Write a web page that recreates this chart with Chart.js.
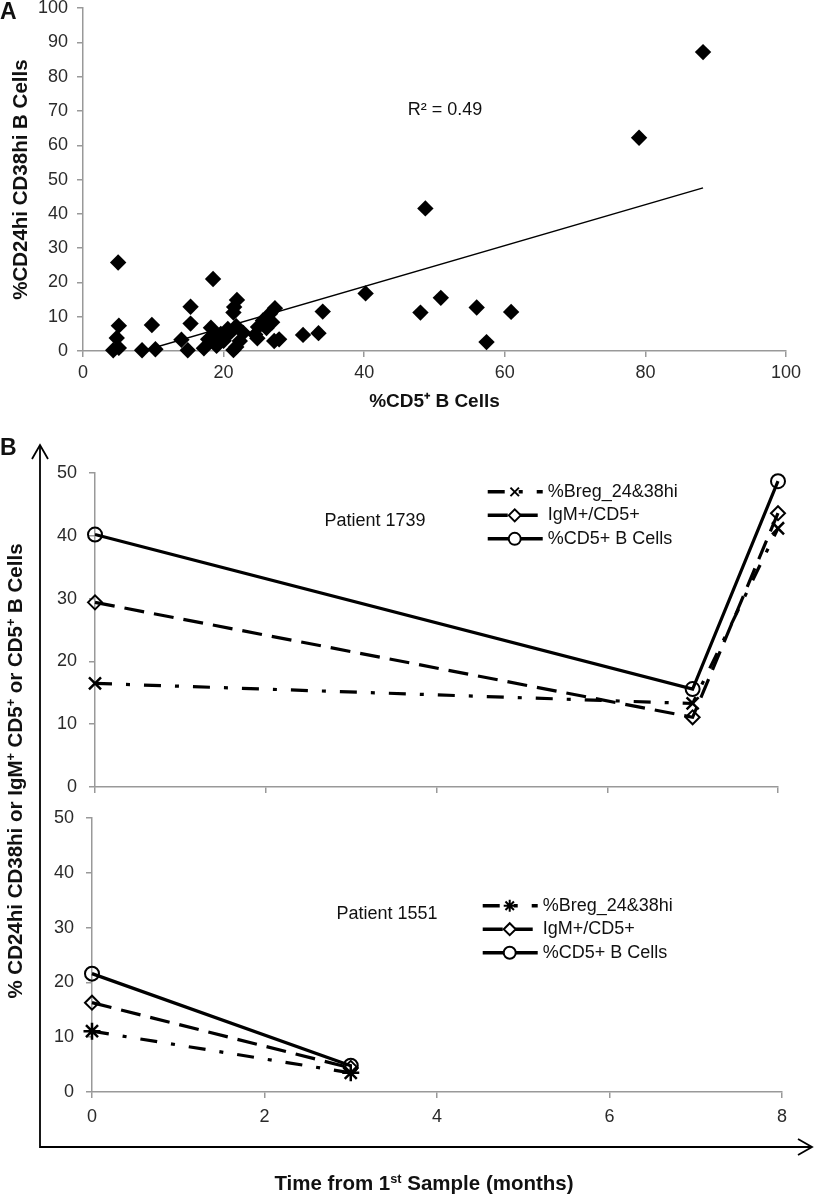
<!DOCTYPE html>
<html>
<head>
<meta charset="utf-8">
<script src="https://cdn.jsdelivr.net/npm/chart.js@4.4.1/dist/chart.umd.min.js"></script>
<style>
  body { margin: 0; background: #fff; }
  #wrap { position: relative; width: 815px; height: 1195px; background: #fff; }
  canvas { position: absolute; left: 0; }
</style>
</head>
<body>
<div id="wrap">
  <canvas id="chartA" width="815" height="430" style="top:0"></canvas>
  <canvas id="chartB2" width="815" height="765" style="top:430px"></canvas>
  <canvas id="chartB1" width="815" height="370" style="top:430px"></canvas>
</div>
<script>
const FONT = "'Liberation Sans', Arial, sans-serif";
Chart.defaults.font.family = FONT;
Chart.defaults.color = '#222';
Chart.defaults.animation = false;
Chart.defaults.events = [];

// ---- panel A data: %CD5+ B cells vs %CD24hi CD38hi B cells
const cd5Pct = [4.3, 4.8, 5.1, 5.1, 5.0, 8.4, 9.8, 10.3, 14.0, 14.9,
  15.3, 15.3, 17.2, 17.8, 18.2, 18.5, 18.8, 19.2, 19.6, 20.2,
  20.6, 21.0, 21.4, 21.4, 21.5, 21.9, 21.8, 22.3, 22.8, 21.8,
  24.5, 24.8, 24.9, 25.6, 26.1, 26.6, 27.3, 26.9, 27.2, 27.9,
  31.3, 33.5, 34.1, 40.2, 48.0, 48.7, 50.9, 56.0, 57.4, 60.9,
  79.1, 88.2, 19.0, 20.0];
const bregPct = [0.2, 3.8, 0.9, 7.4, 25.8, 0.2, 7.6, 0.5, 3.3, 0.2,
  12.9, 8.0, 0.8, 3.4, 6.8, 21.0, 4.3, 2.5, 5.0, 4.5,
  6.4, 5.5, 0.3, 11.2, 12.8, 14.9, 7.2, 2.9, 5.3, 1.2,
  4.8, 3.7, 7.0, 8.9, 6.7, 10.9, 12.5, 8.4, 2.9, 3.4,
  4.7, 5.2, 11.5, 16.8, 11.2, 41.6, 15.5, 12.7, 2.6, 11.4,
  62.2, 87.2, 1.5, 3.0];
const trendSlope = 0.597;
const trendIntercept = -5.07;
const r2Text = 'R² = 0.49';
const r2At = [51.5, 70.3];

// ---- panel B data: time course per patient
const seriesNames = ['%Breg_24&38hi', 'IgM+/CD5+', '%CD5+ B Cells'];
const months1739 = [0, 7, 8];
const breg1739 = [16.5, 13.3, 41.2];
const igm1739 = [29.4, 11.1, 43.6];
const cd5_1739 = [40.2, 15.6, 48.7];
const months1551 = [0, 3];
const breg1551 = [11.1, 3.5];
const igm1551 = [16.3, 4.4];
const cd5_1551 = [21.6, 4.8];

function xy(xs, ys) {
  return xs.map((v, i) => ({ x: v, y: ys[i] }));
}

function makeScale(min, max, step, size, tickPad, showLabels) {
  return {
    type: 'linear',
    min: min,
    max: max,
    ticks: { stepSize: step, padding: tickPad, display: showLabels, font: { size: 18 }, color: '#2a2a2a' },
    grid: { drawOnChartArea: false, drawTicks: true, tickLength: 6, color: '#999', lineWidth: 1.5 },
    border: { color: '#999', width: 1.5 },
    afterFit: s => {
      if (s.isHorizontal()) s.height = size; else s.width = size;
      s.paddingTop = 0; s.paddingBottom = 0; s.paddingLeft = 0; s.paddingRight = 0;
    }
  };
}

// text with superscript runs, optionally rotated
function drawRuns(ctx, runs, cx, cy, size, rotate) {
  ctx.save();
  ctx.translate(cx, cy);
  if (rotate) ctx.rotate(-Math.PI / 2);
  ctx.textBaseline = 'alphabetic';
  ctx.textAlign = 'left';
  let total = 0;
  runs.forEach(r => {
    ctx.font = 'bold ' + (r.sup ? size * 0.62 : size) + 'px ' + FONT;
    r.w = ctx.measureText(r.t).width;
    total += r.w;
  });
  let x = -total / 2;
  const base = size * 0.36;
  runs.forEach(r => {
    ctx.font = 'bold ' + (r.sup ? size * 0.62 : size) + 'px ' + FONT;
    ctx.fillText(r.t, x, r.sup ? base - size * 0.38 : base);
    x += r.w;
  });
  ctx.restore();
}

function seriesSet(xs, breg, igm, cd5, bregStyle) {
  return [
    { label: seriesNames[0], data: xy(xs, breg), borderColor: '#000', borderWidth: 3.2,
      borderDash: [17, 14, 4, 14], pointStyle: bregStyle, pointRadius: 8.5, pointBorderWidth: 2.5,
      pointBorderColor: '#000', pointBackgroundColor: 'rgba(0,0,0,0)' },
    { label: seriesNames[1], data: xy(xs, igm), borderColor: '#000', borderWidth: 3.2,
      borderDash: [20, 10], pointStyle: 'rectRot', pointRadius: 7, pointBorderWidth: 2,
      pointBorderColor: '#000', pointBackgroundColor: 'rgba(0,0,0,0)' },
    { label: seriesNames[2], data: xy(xs, cd5), borderColor: '#000', borderWidth: 3.2,
      pointStyle: 'circle', pointRadius: 7, pointBorderWidth: 2,
      pointBorderColor: '#000', pointBackgroundColor: 'rgba(0,0,0,0)' }
  ].map(d => Object.assign(d, { showLine: true, tension: 0, clip: false, borderCapStyle: 'butt' }));
}

// legend with line sample + marker, and patient caption
const keyPlugin = {
  id: 'lineKey',
  afterDraw(chart, args, opts) {
    const { ctx, scales: { x, y } } = chart;
    const x0 = x.getPixelForValue(opts.at[0]);
    let yy = y.getPixelForValue(opts.at[1]);
    ctx.save();
    chart.data.datasets.forEach(ds => {
      ctx.strokeStyle = '#000';
      ctx.lineWidth = 3.5;
      ctx.setLineDash(ds.borderDash || []);
      ctx.beginPath();
      ctx.moveTo(x0, yy);
      ctx.lineTo(x0 + 55, yy);
      ctx.stroke();
      ctx.setLineDash([]);
      ctx.lineWidth = 2;
      ctx.fillStyle = '#fff';
      Chart.helpers.drawPoint(ctx, { pointStyle: ds.pointStyle, radius: 6, borderWidth: 2, rotation: 0 }, x0 + 27, yy);
      ctx.fillStyle = '#111';
      ctx.font = '18px ' + FONT;
      ctx.textAlign = 'left';
      ctx.textBaseline = 'middle';
      ctx.fillText(ds.label, x0 + 60, yy);
      yy += opts.rowGap;
    });
    ctx.font = '18px ' + FONT;
    ctx.textAlign = 'center';
    ctx.fillText(opts.caption, x.getPixelForValue(opts.captionAt[0]), y.getPixelForValue(opts.captionAt[1]));
    ctx.restore();
  }
};

// ---------- Panel A
const annotateA = {
  id: 'annotateA',
  afterDraw(chart) {
    const { ctx, scales: { x, y } } = chart;
    ctx.save();
    ctx.fillStyle = '#111';
    ctx.textBaseline = 'middle';
    ctx.font = 'bold 23px ' + FONT;
    ctx.textAlign = 'left';
    ctx.fillText('A', 0, 13);
    ctx.font = '18px ' + FONT;
    ctx.textAlign = 'center';
    ctx.fillText(r2Text, x.getPixelForValue(r2At[0]), y.getPixelForValue(r2At[1]));
    ctx.restore();
  }
};

const xMin = Math.min(...cd5Pct), xMax = Math.max(...cd5Pct);
const trendXs = [xMin, xMax];
const trendYs = trendXs.map(v => trendSlope * v + trendIntercept);

const scaleAx = makeScale(0, 100, 20, 79, 5, true);
scaleAx.title = { display: true, text: '%CD5⁺ B Cells', color: '#111',
  font: { size: 19, weight: 'bold' }, padding: { top: 0, bottom: 17 } };
const scaleAy = makeScale(0, 100, 10, 83, 9, true);
scaleAy.title = { display: true, text: '%CD24hi CD38hi B Cells', color: '#111',
  font: { size: 20.5, weight: 'bold' }, padding: { top: 9, bottom: 0 } };

new Chart(document.getElementById('chartA'), {
  type: 'scatter',
  data: {
    datasets: [
      { data: xy(cd5Pct, bregPct), pointStyle: 'rectRot', pointRadius: 8.2,
        backgroundColor: '#000', borderWidth: 0, clip: false },
      { data: xy(trendXs, trendYs), showLine: true, borderColor: '#000',
        borderWidth: 1.5, pointRadius: 0 }
    ]
  },
  options: {
    responsive: false,
    layout: { padding: { top: 8, right: 29, left: 0, bottom: 0 } },
    plugins: { legend: { display: false }, tooltip: { enabled: false } },
    scales: { x: scaleAx, y: scaleAy }
  },
  plugins: [annotateA]
});

// ---------- Panel B, patient 1739 (upper)
new Chart(document.getElementById('chartB1'), {
  type: 'scatter',
  data: { datasets: seriesSet(months1739, breg1739, igm1739, cd5_1739, 'crossRot') },
  options: {
    responsive: false,
    layout: { padding: { top: 43, right: 37, left: 0, bottom: 0 } },
    plugins: {
      legend: { display: false }, tooltip: { enabled: false },
      lineKey: { at: [4.6, 47.0], rowGap: 23.5, caption: 'Patient 1739', captionAt: [3.28, 42.4] }
    },
    scales: { x: makeScale(0, 8, 2, 13, 5, false), y: makeScale(0, 50, 10, 95, 12, true) }
  },
  plugins: [keyPlugin]
});

// ---------- Panel B, patient 1551 (lower) + shared frame
const frameB = {
  id: 'frameB',
  afterDraw(chart) {
    const ctx = chart.ctx;
    ctx.save();
    ctx.strokeStyle = '#000';
    ctx.lineWidth = 1.8;
    ctx.beginPath();
    ctx.moveTo(40, 15);
    ctx.lineTo(40, 717);
    ctx.lineTo(812, 717);
    ctx.stroke();
    ctx.beginPath();
    ctx.moveTo(32, 29); ctx.lineTo(40, 15); ctx.lineTo(48, 29);
    ctx.moveTo(798, 709); ctx.lineTo(812, 717); ctx.lineTo(798, 725);
    ctx.stroke();
    ctx.fillStyle = '#111';
    ctx.font = 'bold 23px ' + FONT;
    ctx.textAlign = 'left';
    ctx.textBaseline = 'middle';
    ctx.fillText('B', 0, 19);
    drawRuns(ctx, [{ t: '% CD24hi CD38hi or IgM' }, { t: '+', sup: true }, { t: ' CD5' }, { t: '+', sup: true },
      { t: ' or CD5' }, { t: '+', sup: true }, { t: ' B Cells' }], 15, 341, 20.5, true);
    drawRuns(ctx, [{ t: 'Time from 1' }, { t: 'st', sup: true }, { t: ' Sample (months)' }], 424, 753, 20.5, false);
    ctx.restore();
  }
};

new Chart(document.getElementById('chartB2'), {
  type: 'scatter',
  data: { datasets: seriesSet(months1551, breg1551, igm1551, cd5_1551, 'star') },
  options: {
    responsive: false,
    layout: { padding: { top: 388, right: 33, left: 0, bottom: 0 } },
    plugins: {
      legend: { display: false }, tooltip: { enabled: false },
      lineKey: { at: [4.53, 34.0], rowGap: 23.5, caption: 'Patient 1551', captionAt: [3.42, 32.5] }
    },
    scales: { x: makeScale(0, 8, 2, 103, 8, true), y: makeScale(0, 50, 10, 92, 12, true) }
  },
  plugins: [keyPlugin, frameB]
});
</script>
</body>
</html>
